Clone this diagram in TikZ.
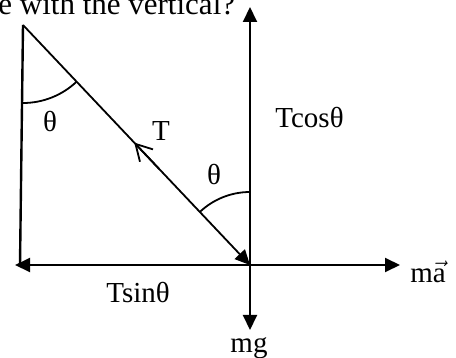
\documentclass[tikz,border=0pt]{standalone}
\usepackage{fontspec}
\setmainfont{Liberation Serif}
\usetikzlibrary{arrows.meta,calc}
\tikzset{
  force/.style={line width=1pt,-{Triangle[length=7.5pt,width=7pt]}},
  lbl/.style={inner sep=0pt,anchor=base,font=\fontsize{14.5}{17}\selectfont}
}
\begin{document}
\begin{tikzpicture}[x=0.5pt,y=-0.5pt]
    \useasboundingbox (0,0) rectangle (456,358);
    \node[lbl,anchor=base west,font=\fontsize{15.5}{18}\selectfont] at (-2,15) {e with the vertical?};

    \coordinate (apex) at (23,25);
    \coordinate (foot) at (20,265);
    \coordinate (O) at (250,265);
    \draw[line width=1.2pt] (apex) -- (foot);

    \foreach \p in {(250,7), (250,330), (15,265), (400,265)}{
      \draw[force] (O) -- \p;
    }
    \draw[line width=0.9pt,-{Triangle[length=7.5pt,width=7pt]}] (apex) -- (O);
    \draw[line width=0.9pt,-{Straight Barb[length=8pt,width=9pt]}]
      ($(apex)!0.6!(O)$) -- ($(apex)!0.49!(O)$);

    \draw[line width=0.9pt] ($(apex)+(0,78)$) arc[start angle=270,end angle=313.5,radius=39pt];
    \draw[line width=0.9pt] ($(O)+(0,-73)$) arc[start angle=90,end angle=133.5,radius=36.5pt];

    \node[lbl] at (50,132) {θ};
    \node[lbl] at (214,185) {θ};
    \node[lbl] at (161,141) {T};
    \node[lbl,anchor=base west] at (275,128) {Tcosθ};
    \node[lbl,anchor=base west] at (106,303) {Tsinθ};
    \node[lbl] at (249,352) {mg};
    \node[lbl,anchor=base west] at (410,283) {m\(\vec{\mbox{a}}\)};
\end{tikzpicture}
\end{document}
